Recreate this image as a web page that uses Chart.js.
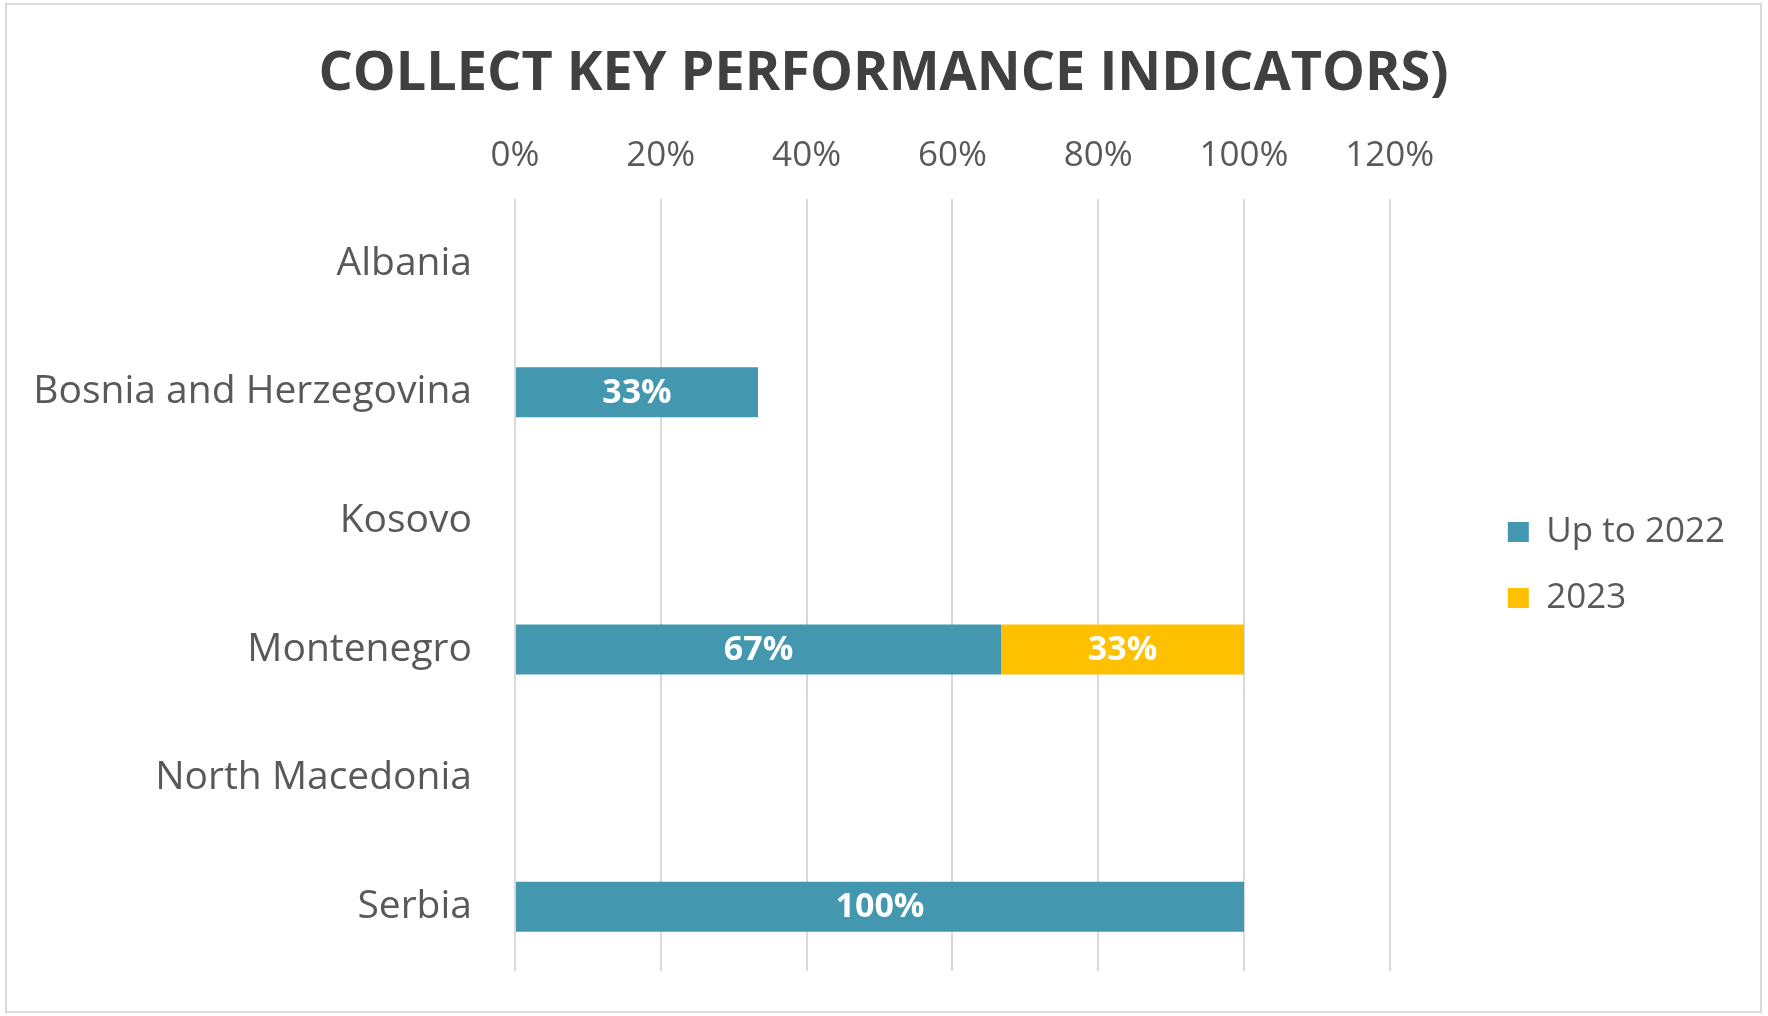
<!DOCTYPE html>
<html>
<head>
<meta charset="utf-8">
<script src="https://cdn.jsdelivr.net/npm/chart.js@4/dist/chart.umd.min.js"></script>
<style>
  html, body { margin: 0; padding: 0; background: #fff; }
  #frame {
    position: absolute; left: 5px; top: 3px;
    width: 1757px; height: 1010px;
    border: 2px solid #d9d9d9; box-sizing: border-box;
  }
  canvas { display: block; }
</style>
</head>
<body>
<div id="frame"><canvas id="kpiChart" width="1753" height="1006"></canvas></div>
<script>
const countries = ['Albania', 'Bosnia and Herzegovina', 'Kosovo', 'Montenegro', 'North Macedonia', 'Serbia'];
const upTo2022 = [0, 33.33, 0, 66.67, 0, 100];
const year2023 = [0, 0, 0, 33.33, 0, 0];
const seriesNames = ['Up to 2022', '2023'];
const tickValues = [0, 20, 40, 60, 80, 100, 120];

const TEAL = '#4397af';
const GOLD = '#ffc000';
const GREY = '#595959';
const FONT = "'Open Sans', sans-serif";

// white value labels in the middle of each bar
const barLabels = {
  id: 'barLabels',
  afterDatasetsDraw(chart) {
    const ctx = chart.ctx;
    ctx.save();
    ctx.fillStyle = '#fff';
    ctx.font = 'bold 34px ' + FONT;
    ctx.textAlign = 'center';
    ctx.textBaseline = 'middle';
    chart.data.datasets.forEach((ds, i) => {
      chart.getDatasetMeta(i).data.forEach((bar, j) => {
        const v = ds.data[j];
        if (!v) return;
        const p = bar.getCenterPoint();
        ctx.fillText(Math.round(v) + '%', p.x, p.y + 1);
      });
    });
    ctx.restore();
  }
};

// push the legend away from the plot and keep the title centred on the whole canvas
const legendGap = {
  id: 'legendGap',
  afterLayout(chart) {
    chart.legend.left += 87;
    chart.legend.right += 87;
    chart.titleBlock.right = chart.width;
  }
};

new Chart(document.getElementById('kpiChart'), {
  type: 'bar',
  data: {
    labels: countries,
    datasets: [
      { label: seriesNames[0], data: upTo2022, backgroundColor: TEAL },
      { label: seriesNames[1], data: year2023, backgroundColor: GOLD }
    ]
  },
  options: {
    indexAxis: 'y',
    responsive: false,
    animation: false,
    barPercentage: 0.388,
    categoryPercentage: 1,
    layout: { padding: { left: 0, right: 112, top: 0, bottom: 40 } },
    scales: {
      x: {
        position: 'top',
        stacked: true,
        min: 0,
        max: 120,
        afterBuildTicks(scale) {
          scale.ticks = tickValues.map(v => ({ value: v }));
        },
        ticks: {
          color: GREY,
          font: { family: FONT, size: 35 },
          padding: 22,
          callback: v => v + '%'
        },
        grid: { color: '#d9d9d9', lineWidth: 2, drawTicks: false },
        border: { display: false }
      },
      y: {
        stacked: true,
        afterFit(scale) {
          scale.width = 508;
          // the big label gap should not eat vertical room
          scale.paddingTop = 0;
          scale.paddingBottom = 0;
        },
        ticks: {
          color: GREY,
          font: { family: FONT, size: 39 },
          padding: 43
        },
        grid: { display: false, drawTicks: false },
        border: { display: false }
      }
    },
    plugins: {
      title: {
        display: true,
        text: 'COLLECT KEY PERFORMANCE INDICATORS)',
        color: '#404040',
        font: { family: FONT, size: 54, weight: 'bold' },
        padding: { top: 37, bottom: 6.5 }
      },
      legend: {
        position: 'right',
        fullSize: false,
        align: 'start',
        title: { display: true, text: '', font: { size: 1 }, padding: { top: 283, bottom: 0 } },
        labels: {
          color: GREY,
          font: { family: FONT, size: 35 },
          boxWidth: 21,
          boxHeight: 20,
          padding: 31
        }
      },
      tooltip: { enabled: false }
    }
  },
  plugins: [barLabels, legendGap]
});
</script>
</body>
</html>
